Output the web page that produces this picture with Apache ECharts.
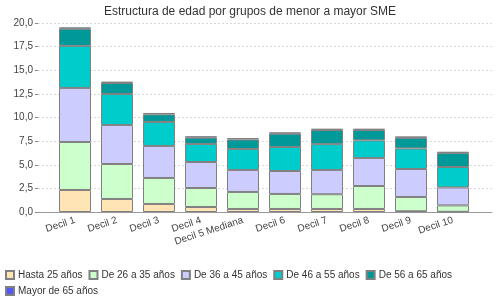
<!DOCTYPE html>
<html>
<head>
<meta charset="utf-8">
<script src="https://cdn.jsdelivr.net/npm/echarts@6/dist/echarts.min.js"></script>
<style>html,body{margin:0;padding:0;background:#fff}#c{width:500px;height:300px}</style>
</head>
<body>
<div id="c"></div>
<script>
var categories = ['Decil 1','Decil 2','Decil 3','Decil 4','Decil 5 Mediana','Decil 6','Decil 7','Decil 8','Decil 9','Decil 10'];
var hasta25   = [2.33, 1.38, 0.85, 0.53, 0.32, 0.32, 0.32, 0.32, 0.08, 0.02];
var de26a35   = [5.08, 3.70, 2.75, 2.01, 1.80, 1.59, 1.56, 2.43, 1.51, 0.68];
var de36a45   = [5.72, 4.13, 3.39, 2.75, 2.33, 2.43, 2.57, 2.97, 2.96, 1.90];
var de46a55   = [4.45, 3.28, 2.54, 1.91, 2.22, 2.54, 2.73, 1.86, 2.18, 2.16];
var de56a65   = [1.81, 1.16, 0.80, 0.67, 1.00, 1.40, 1.49, 1.09, 1.12, 1.47];
var mayor65   = [0.15, 0.15, 0.15, 0.15, 0.15, 0.15, 0.15, 0.15, 0.15, 0.15];
var seriesNames = ['Hasta 25 años','De 26 a 35 años','De 36 a 45 años','De 46 a 55 años','De 56 a 65 años','Mayor de 65 años'];
var seriesData = [hasta25, de26a35, de36a45, de46a55, de56a65, mayor65];
var colors = ['#FFE4B5','#CCFFCC','#CCCCFF','#00CCCC','#009999','#5555FF'];
var yTicks = [0, 2.5, 20];

var FONT = '"Liberation Sans", Arial, sans-serif';
var chart = echarts.init(document.getElementById('c'), null, {renderer:'canvas'});
var series = seriesNames.map(function(n, i){
  return {
    name: n, type: 'bar', stack: 'total', xAxisIndex: 1, yAxisIndex: 1,
    data: seriesData[i], barWidth: 32,
    itemStyle: {color: colors[i], borderColor: '#808080', borderWidth: 1},
    emphasis: {disabled: true}
  };
});
chart.setOption({
  animation: false,
  textStyle: {fontFamily: FONT},
  title: {text: 'Estructura de edad por grupos de menor a mayor SME', left: 'center', top: 1,
    textStyle: {fontSize: 12, fontWeight: 'normal', color: '#333', fontFamily: FONT}},
  legend: {
    left: 5, top: 265, width: 480, itemWidth: 8, itemHeight: 8, itemGap: 6, padding: [5, 0, 5, 0],
    icon: 'rect', data: seriesNames,
    textStyle: {fontSize: 10, color: '#333', fontFamily: FONT, padding: [0,0,0,-1]}
  },
  grid: [
    {left: 38, right: 8, top: 23, bottom: 88},
    {left: 54, right: 26, top: 23, bottom: 88}
  ],
  xAxis: [
    {gridIndex: 0, type: 'value', min: 0, max: 1, axisLabel: {show: false}, axisTick: {show: false},
      splitLine: {show: false}, axisLine: {show: true, lineStyle: {color: '#999', width: 1}}},
    {gridIndex: 1, type: 'category', data: categories, boundaryGap: true,
      axisLine: {show: false}, axisTick: {show: false},
      axisLabel: {rotate: 18, fontSize: 10, color: '#444', margin: 8, interval: 0, fontFamily: FONT}}
  ],
  yAxis: [
    {gridIndex: 0, type: 'value', min: yTicks[0], max: yTicks[2], interval: yTicks[1],
      axisLine: {show: false},
      axisTick: {show: true, length: 3, lineStyle: {color: '#888'}},
      axisLabel: {fontSize: 10, color: '#444', margin: 5, fontFamily: FONT,
        formatter: function(v){ return v.toFixed(1).replace('.', ','); }},
      splitLine: {show: true, lineStyle: {color: '#d8d8d8', type: [2,2], width: 1}}},
    {gridIndex: 1, type: 'value', min: yTicks[0], max: yTicks[2], interval: yTicks[1], show: false,
      splitLine: {show: false}}
  ],
  series: series
});
</script>
</body>
</html>
